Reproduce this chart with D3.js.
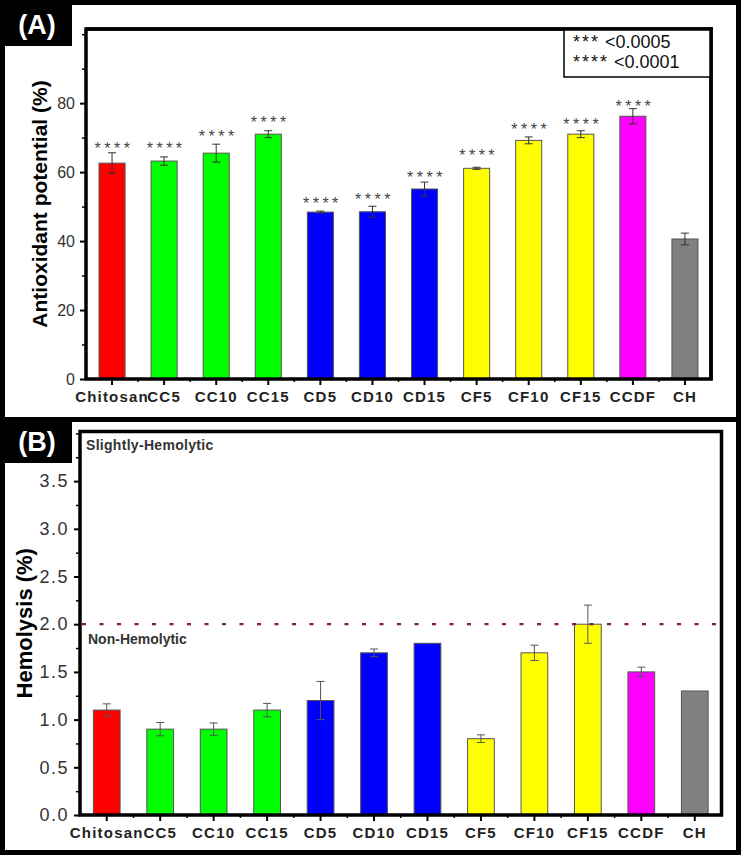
<!DOCTYPE html>
<html><head><meta charset="utf-8">
<script src="https://cdn.jsdelivr.net/npm/d3@7/dist/d3.min.js"></script>
<style>body{margin:0;background:#fff}svg{display:block;font-family:Arial,"Liberation Sans",sans-serif}</style>
</head><body>
<script>
const categories = ["Chitosan","CC5","CC10","CC15","CD5","CD10","CD15","CF5","CF10","CF15","CCDF","CH"];
const barColors = ["#ff0000","#00ff00","#00ff00","#00ff00","#0000ff","#0000ff","#0000ff","#ffff00","#ffff00","#ffff00","#ff00ff","#808080"];
// Panel A: antioxidant potential (%)
const antioxValues = [62.6, 63.2, 65.5, 71.0, 48.4, 48.5, 55.1, 61.1, 69.2, 71.0, 76.2, 40.6];
const antioxErrors = [3.0, 1.2, 2.6, 1.0, 0.3, 1.6, 2.0, 0.3, 1.0, 1.0, 2.2, 1.7];
const antioxSig = ["****","****","****","****","****","****","****","****","****","****","****",""];
const antioxSigY = [68.1, 68.1, 71.6, 75.7, 52.2, 53.3, 59.7, 66.1, 73.6, 75.1, 80.3, 0];
const antioxTicks = [0, 20, 40, 60, 80];
const legendLines = [["***","<0.0005"],["****","<0.0001"]];
// Panel B: hemolysis (%)
const hemoValues = [1.1, 0.9, 0.9, 1.1, 1.2, 1.7, 1.8, 0.8, 1.7, 2.0, 1.5, 1.3];
const hemoErrors = [0.065, 0.07, 0.065, 0.07, 0.2, 0.04, 0, 0.04, 0.08, 0.2, 0.05, 0];
const hemoTicks = [0.0, 0.5, 1.0, 1.5, 2.0, 2.5, 3.0, 3.5];
const hemoThreshold = 2.0;

const W = 743, H = 858;
const svg = d3.select("body").append("svg").attr("width", W).attr("height", H);

function panel(cfg) {
  const g = svg.append("g");
  const x = d3.scaleBand().domain(categories).range([cfg.left, cfg.right]).paddingInner(0.5).paddingOuter(0.25);
  const y = d3.scaleLinear().domain(cfg.domain).range([cfg.bottom, cfg.top]);
  const step = x.step();

  g.append("g").attr("transform", `translate(${cfg.left},0)`)
    .call(d3.axisLeft(y).tickValues(cfg.minor).tickSize(4).tickFormat(""))
    .call(a => a.select(".domain").remove())
    .call(a => a.selectAll("line").attr("stroke", "#000").attr("stroke-width", 1.5));
  g.append("g").attr("transform", `translate(${cfg.left},0)`)
    .call(d3.axisLeft(y).tickValues(cfg.major).tickSize(6).tickPadding(5).tickFormat(cfg.fmt))
    .call(a => a.select(".domain").remove())
    .call(a => a.selectAll("line").attr("stroke", "#000").attr("stroke-width", 2))
    .call(a => a.selectAll("text").attr("fill", "#333").attr("font-size", cfg.tickFont).attr("letter-spacing", cfg.tickLS));

  g.append("g").attr("transform", `translate(0,${cfg.bottom})`)
    .call(d3.axisBottom(x).tickSize(6).tickPadding(6))
    .call(a => a.select(".domain").remove())
    .call(a => a.selectAll("line").attr("stroke", "#000").attr("stroke-width", 2))
    .call(a => a.selectAll("text").attr("fill", "#222").attr("font-size", 15).attr("font-weight", "bold").attr("letter-spacing", 1.2));
  g.append("g").selectAll("line").data(categories.slice(1)).join("line")
    .attr("x1", d => x(d) + x.bandwidth()/2 - step/2).attr("x2", d => x(d) + x.bandwidth()/2 - step/2)
    .attr("y1", cfg.bottom).attr("y2", cfg.bottom + 3).attr("stroke", "#000").attr("stroke-width", 1.5);

  g.append("g").selectAll("rect").data(cfg.values).join("rect")
    .attr("x", (d, i) => x(categories[i])).attr("width", x.bandwidth())
    .attr("y", d => y(d)).attr("height", d => cfg.bottom - y(d))
    .attr("fill", (d, i) => barColors[i]).attr("stroke", "#555").attr("stroke-width", 1);

  const eg = g.append("g").attr("stroke", cfg.errColor).attr("stroke-width", 1);
  cfg.values.forEach((v, i) => {
    const e = cfg.errors[i];
    if (!e) return;
    const cx = x(categories[i]) + x.bandwidth()/2;
    eg.append("line").attr("x1", cx).attr("x2", cx).attr("y1", y(v - e)).attr("y2", y(v + e));
    [v - e, v + e].forEach(t => eg.append("line").attr("x1", cx - 4).attr("x2", cx + 4).attr("y1", y(t)).attr("y2", y(t)));
  });

  g.append("rect").attr("x", cfg.left).attr("y", cfg.top).attr("width", cfg.right - cfg.left).attr("height", cfg.bottom - cfg.top)
    .attr("fill", "none").attr("stroke", "#000").attr("stroke-width", 3.5);

  g.append("text").attr("transform", `translate(${cfg.titleX},${(cfg.top + cfg.bottom)/2}) rotate(-90)`)
    .attr("text-anchor", "middle").attr("font-weight", "bold").attr("font-size", cfg.titleFont).attr("fill", "#000")
    .text(cfg.title);
  return {g, x, y};
}

// Panel A
const A = panel({left: 86, right: 711, top: 29, bottom: 379, domain: [0, 101.5],
  major: antioxTicks, minor: [10, 30, 50, 70, 90, 100], fmt: d3.format("d"), tickFont: 16, tickLS: 0,
  values: antioxValues, errors: antioxErrors, errColor: "#333", titleX: 47, titleFont: 21,
  title: "Antioxidant potential (%)"});
A.g.append("g").selectAll("text").data(antioxSig).join("text")
  .attr("x", (d, i) => A.x(categories[i]) + A.x.bandwidth()/2 + 2)
  .attr("y", (d, i) => A.y(antioxSigY[i]) + 10)
  .attr("text-anchor", "middle").attr("font-size", 16).attr("letter-spacing", 3.5).attr("fill", "#444")
  .text(d => d);
A.g.append("rect").attr("x", 564).attr("y", 29).attr("width", 147).attr("height", 48)
  .attr("fill", "#fff").attr("stroke", "#000").attr("stroke-width", 1.5);
legendLines.forEach((l, i) => {
  const t = A.g.append("text").attr("x", 573).attr("y", 48 + i * 20).attr("font-size", 18).attr("fill", "#111");
  t.append("tspan").attr("letter-spacing", 2).text(l[0]);
  t.append("tspan").text(" " + l[1]);
});
A.g.append("line").attr("x1", 86).attr("x2", 712.5).attr("y1", 29).attr("y2", 29).attr("stroke", "#000").attr("stroke-width", 3.5);
A.g.append("line").attr("x1", 711).attr("x2", 711).attr("y1", 27).attr("y2", 380).attr("stroke", "#000").attr("stroke-width", 3.5);

// Panel B
const B = panel({left: 80, right: 721.5, top: 431.5, bottom: 815, domain: [0, 4.02],
  major: hemoTicks, minor: [0.25, 0.75, 1.25, 1.75, 2.25, 2.75, 3.25, 3.75, 4.0], fmt: d3.format(".1f"), tickFont: 18, tickLS: 1.5,
  values: hemoValues, errors: hemoErrors, errColor: "#555", titleX: 32, titleFont: 22,
  title: "Hemolysis (%)"});
B.g.append("line").attr("x1", 82).attr("x2", 720).attr("y1", B.y(hemoThreshold)).attr("y2", B.y(hemoThreshold))
  .attr("stroke", "#7d1d4f").attr("stroke-width", 2.2).attr("stroke-dasharray", "4,13.5");
B.g.append("text").attr("x", 86).attr("y", 450).attr("font-size", 14).attr("font-weight", "bold").attr("letter-spacing", 0.3)
  .attr("fill", "#333").text("Slightly-Hemolytic");
B.g.append("text").attr("x", 88).attr("y", 644).attr("font-size", 14).attr("font-weight", "bold")
  .attr("fill", "#333").text("Non-Hemolytic");

svg.append("rect").attr("x", 2.5).attr("y", 2.5).attr("width", 736).attr("height", 850)
  .attr("fill", "none").attr("stroke", "#000").attr("stroke-width", 5);
svg.append("line").attr("x1", 0).attr("x2", 741).attr("y1", 419.5).attr("y2", 419.5).attr("stroke", "#000").attr("stroke-width", 5);

[["(A)", 0, 0], ["(B)", 0, 417]].forEach(([t, bx, by]) => {
  svg.append("rect").attr("x", bx).attr("y", by).attr("width", 72).attr("height", 46).attr("fill", "#000");
  svg.append("text").attr("x", bx + 37).attr("y", by + 34).attr("text-anchor", "middle")
    .attr("font-size", 27).attr("font-weight", "bold").attr("fill", "#fff").text(t);
});
</script>
</body></html>
